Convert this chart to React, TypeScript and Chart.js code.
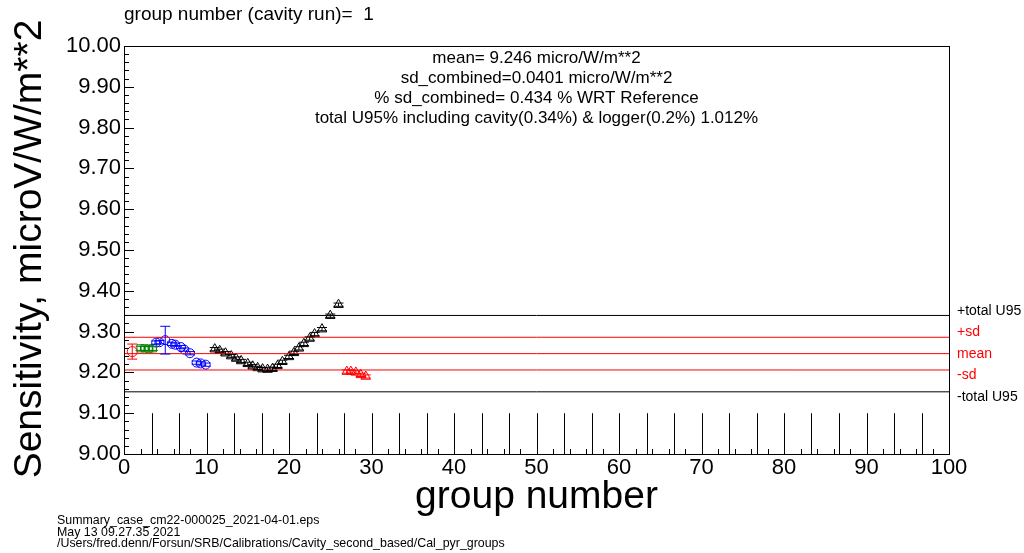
import React, { useEffect, useRef } from "react";
import { Chart, registerables } from "chart.js";
Chart.register(...registerables);

// ---- data ----
const redCircleX = [1.0];
const redCircleY = [9.251];
const redCircleErr = [0.0185];

const greenX = [2.0, 2.5, 3.0, 3.5];
const greenY = [9.259, 9.259, 9.258, 9.259];
const greenErr = [0.005, 0.005, 0.005, 0.005];

const blueX = [3.9, 4.3, 5.0, 5.8, 6.2, 6.9, 7.3, 8.0, 8.8, 9.3, 9.9];
const blueY = [9.273, 9.274, 9.279, 9.270, 9.268, 9.262, 9.256, 9.247, 9.224, 9.222, 9.219];
const blueErr = [0.004, 0.004, 0.034, 0.004, 0.004, 0.004, 0.004, 0.004, 0.004, 0.004, 0.004];

const blackX = [11.0, 11.6, 12.3, 13.0, 13.6, 14.2, 15.0, 15.6, 16.2, 16.8, 17.4, 18.0, 18.6, 19.2, 20.0, 20.6, 21.2, 21.8, 22.5, 23.1, 24.0, 25.0, 26.0];
const blackY = [9.257, 9.253, 9.247, 9.240, 9.234, 9.228, 9.221, 9.215, 9.211, 9.208, 9.207, 9.209, 9.216, 9.226, 9.238, 9.248, 9.259, 9.270, 9.283, 9.294, 9.306, 9.339, 9.366];
const blackErr = [0.004, 0.004, 0.004, 0.004, 0.004, 0.004, 0.004, 0.004, 0.004, 0.004, 0.004, 0.004, 0.004, 0.004, 0.004, 0.004, 0.004, 0.004, 0.004, 0.004, 0.004, 0.004, 0.004];

const redTriX = [27.0, 27.5, 28.1, 28.7, 29.3];
const redTriY = [9.202, 9.202, 9.200, 9.194, 9.190];
const redTriErr = [0.004, 0.004, 0.004, 0.004, 0.004];

const refNames = ["+total U95", "+sd", "mean", "-sd", "-total U95"];
const refValues = [9.3396, 9.2861, 9.246, 9.2059, 9.1524];
const refColors = ["#000000", "#ff0000", "#ff0000", "#ff0000", "#000000"];
const refLabelOffsets = [-4, -5, 1, 5, 5];

const infoLines = [
  "mean= 9.246 micro/W/m**2",
  "sd_combined=0.0401 micro/W/m**2",
  "% sd_combined= 0.434 % WRT Reference",
  "total U95% including cavity(0.34%) & logger(0.2%) 1.012%",
];
const footerLines = [
  "Summary_case_cm22-000025_2021-04-01.eps",
  "May 13 09.27.35 2021",
  "/Users/fred.denn/Forsun/SRB/Calibrations/Cavity_second_based/Cal_pyr_groups",
];
const titleText = "group number (cavity run)=  1";
const xTitle = "group number";
const yTitle = "Sensitivity, microV/W/m**2";
const runMarkerCount = 29;

const FONT = "'Liberation Sans', Arial, Helvetica, sans-serif";

function pts(xs: number[], ys: number[]) {
  return xs.map((x, i) => ({ x, y: ys[i] }));
}

const decorPlugin = {
  id: "decor",
  beforeDatasetsDraw(chart: any) {
    const { ctx, scales } = chart;
    const xs = scales.x, ys = scales.y;
    ctx.save();
    ctx.strokeStyle = "#000";
    ctx.lineWidth = 1;
    for (let k = 1; k <= runMarkerCount; k++) {
      const px = Math.round(xs.getPixelForValue((100 * k) / 30)) + 0.5;
      ctx.beginPath();
      ctx.moveTo(px, ys.getPixelForValue(9.0));
      ctx.lineTo(px, ys.getPixelForValue(9.1));
      ctx.stroke();
    }
    ctx.restore();
  },
  afterDatasetsDraw(chart: any) {
    const { ctx, scales } = chart;
    const xs = scales.x, ys = scales.y;
    ctx.save();
    chart.data.datasets.forEach((ds: any) => {
      if (!ds.yErr) return;
      ctx.strokeStyle = ds.borderColor;
      ctx.lineWidth = 1;
      ds.data.forEach((p: any, j: number) => {
        const px = xs.getPixelForValue(p.x);
        const top = ys.getPixelForValue(p.y + ds.yErr[j]);
        const bot = ys.getPixelForValue(p.y - ds.yErr[j]);
        const c = ds.cap;
        ctx.beginPath();
        ctx.moveTo(px, top);
        ctx.lineTo(px, bot);
        ctx.moveTo(px - c, top);
        ctx.lineTo(px + c, top);
        ctx.moveTo(px - c, bot);
        ctx.lineTo(px + c, bot);
        ctx.stroke();
      });
    });
    ctx.restore();
  },
  afterDraw(chart: any) {
    const { ctx, chartArea, scales } = chart;
    const xs = scales.x, ys = scales.y;
    const L = chartArea.left, R = chartArea.right, T = chartArea.top, B = chartArea.bottom;
    ctx.save();
    ctx.strokeStyle = "#000";
    ctx.lineWidth = 1;
    ctx.strokeRect(Math.round(L) + 0.5, Math.round(T) + 0.5, Math.round(R - L), Math.round(B - T));
    for (let i = 0; i <= 50; i++) {
      const v = 9 + i * 0.02;
      const py = Math.round(ys.getPixelForValue(v)) + 0.5;
      const len = i % 5 === 0 ? 10 : 5;
      ctx.beginPath();
      ctx.moveTo(L, py);
      ctx.lineTo(L + len, py);
      ctx.stroke();
    }
    for (let i = 0; i <= 50; i++) {
      const v = i * 2;
      const px = Math.round(xs.getPixelForValue(v)) + 0.5;
      const len = i % 5 === 0 ? 10 : 5;
      ctx.beginPath();
      ctx.moveTo(px, B);
      ctx.lineTo(px, B - len);
      ctx.stroke();
    }
    ctx.font = `14px ${FONT}`;
    ctx.textAlign = "left";
    ctx.textBaseline = "middle";
    refNames.forEach((n, i) => {
      ctx.fillStyle = refColors[i];
      ctx.fillText(n, R + 8, ys.getPixelForValue(refValues[i]) + refLabelOffsets[i]);
    });
    ctx.fillStyle = "#000";
    ctx.font = `17px ${FONT}`;
    ctx.textAlign = "center";
    infoLines.forEach((t, i) => ctx.fillText(t, (L + R) / 2, T + 12 + i * 20));
    ctx.font = `19px ${FONT}`;
    ctx.textAlign = "left";
    ctx.fillText(titleText, L, 15);
    ctx.font = `39px ${FONT}`;
    ctx.textAlign = "center";
    ctx.fillText(xTitle, (L + R) / 2, 497);
    ctx.save();
    ctx.translate(30, 249);
    ctx.rotate(-Math.PI / 2);
    ctx.fillText(yTitle, 0, 0);
    ctx.restore();
    ctx.font = `12.4px ${FONT}`;
    ctx.textAlign = "left";
    footerLines.forEach((t, i) => ctx.fillText(t, 57, 521 + i * 11.5));
    ctx.restore();
  },
};

export default function App() {
  const ref = useRef<HTMLCanvasElement>(null);
  useEffect(() => {
    if (!ref.current) return;
    const mk = (label: string, xs: number[], ys: number[], err: number[], color: string, style: string, r: number, cap: number) => ({
      type: "scatter" as const,
      label,
      data: pts(xs, ys),
      borderColor: color,
      backgroundColor: "rgba(0,0,0,0)",
      pointStyle: style,
      pointRadius: r,
      pointBorderWidth: 1,
      showLine: false,
      yErr: err,
      cap,
    });
    const refSets = refValues.map((v, i) => ({
      type: "line" as const,
      label: refNames[i],
      data: [{ x: 0, y: v }, { x: 100, y: v }],
      borderColor: refColors[i],
      borderWidth: 1,
      pointRadius: 0,
      fill: false,
    }));
    const chart = new Chart(ref.current, {
      type: "scatter",
      data: {
        datasets: [
          ...refSets,
          mk("red", redCircleX, redCircleY, redCircleErr, "#ff0000", "circle", 5, 5),
          mk("green", greenX, greenY, greenErr, "#008000", "rect", 5, 5),
          mk("blue", blueX, blueY, blueErr, "#0000ff", "circle", 4.5, 5),
          mk("black", blackX, blackY, blackErr, "#000000", "triangle", 5.5, 5),
          mk("redtri", redTriX, redTriY, redTriErr, "#ff0000", "triangle", 5.5, 5),
        ] as any,
      },
      options: {
        responsive: false,
        animation: false,
        devicePixelRatio: 1,
        layout: { padding: { top: 46, right: 75, left: 0, bottom: 0 } },
        plugins: { legend: { display: false }, tooltip: { enabled: false } },
        scales: {
          x: {
            type: "linear",
            min: 0,
            max: 100,
            grid: { display: false, drawTicks: false },
            border: { display: false },
            ticks: { stepSize: 10, font: { size: 22, family: FONT }, color: "#000", padding: 1, maxRotation: 0 },
            afterFit: (s: any) => { s.height = 99; },
          },
          y: {
            type: "linear",
            min: 9,
            max: 10,
            grid: { display: false, drawTicks: false },
            border: { display: false },
            ticks: { stepSize: 0.1, font: { size: 22, family: FONT }, color: "#000", padding: 3, callback: (v: any) => Number(v).toFixed(2) },
            afterFit: (s: any) => { s.width = 124; },
          },
        },
      } as any,
      plugins: [decorPlugin],
    });
    return () => chart.destroy();
  }, []);
  return (
    <div style={{ position: "fixed", left: 0, top: 0, width: 1024, height: 553, background: "#fff" }}>
      <canvas ref={ref} width={1024} height={553} style={{ width: 1024, height: 553 }} />
    </div>
  );
}
